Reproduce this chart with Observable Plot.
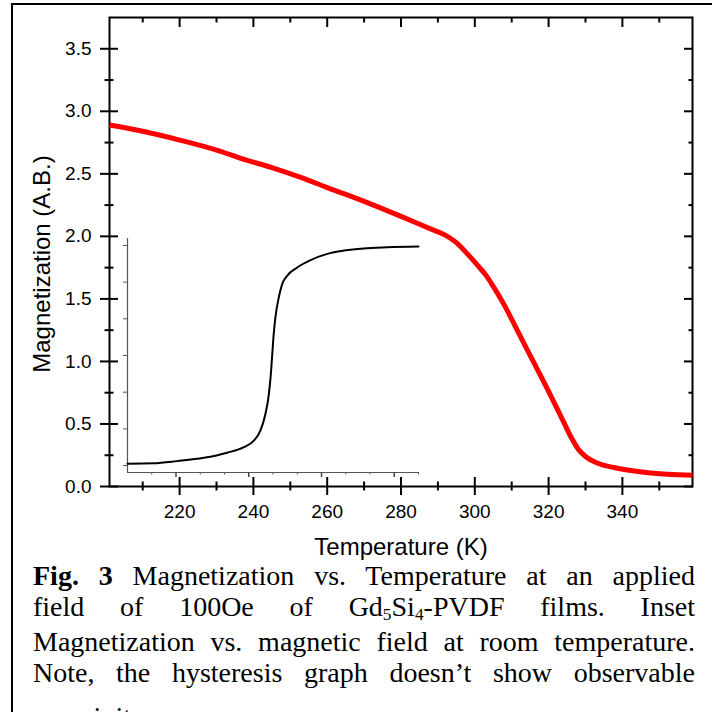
<!DOCTYPE html>
<html><head><meta charset="utf-8">
<script src="https://cdn.jsdelivr.net/npm/d3@7"></script>
<script src="https://cdn.jsdelivr.net/npm/@observablehq/plot@0.6"></script>
<style>
html,body{margin:0;padding:0;background:#fff;}
#wrap{position:relative;width:712px;height:712px;overflow:hidden;background:#fff;}
#frame{position:absolute;left:11px;top:3px;width:800px;height:800px;border-left:2px solid #000;border-top:2px solid #000;box-sizing:border-box;}
#main,#inset{position:absolute;left:0;top:0;width:712px;}
#caption{position:absolute;left:33px;top:560px;width:662px;font-family:"Liberation Serif","Times New Roman",serif;font-size:28px;line-height:31px;color:#000;}
#caption .l{text-align:justify;text-align-last:justify;white-space:nowrap;}
#caption .last{text-align:left;margin-top:13px;}
#caption sub{font-size:0.62em;vertical-align:baseline;position:relative;top:0.22em;}
</style></head>
<body><div id="wrap"><div id="frame"></div><div id="main"></div><div id="inset"></div><div id="caption"></div></div>
<script>
// Main curve: magnetization vs temperature
const temperature   = [201, 210, 220, 230, 237, 245, 253, 260, 270, 280, 288, 292, 295, 298, 301, 303, 305, 308, 312, 316, 320, 324, 326, 328, 330, 333, 338, 347, 359];
const magnetization = [2.89, 2.84, 2.77, 2.69, 2.62, 2.55, 2.47, 2.39, 2.28, 2.16, 2.06, 2.01, 1.95, 1.86, 1.76, 1.69, 1.60, 1.45, 1.22, 0.99, 0.76, 0.52, 0.40, 0.30, 0.24, 0.19, 0.15, 0.11, 0.09];

// Inset curve: magnetization vs magnetic field (arbitrary units, no labels)
const field  = [0, 1.08, 2.05, 3.15, 4.11, 4.80, 5.21, 5.48, 5.69, 5.83, 5.90, 5.97, 6.03, 6.10, 6.24, 6.38, 6.59, 7.00, 7.55, 8.24, 8.93, 9.74, 10.71, 12.0];
const moment = [0.05, 0.06, 0.12, 0.21, 0.35, 0.50, 0.68, 0.95, 1.41, 1.95, 2.41, 3.04, 3.59, 4.04, 4.59, 4.95, 5.18, 5.40, 5.60, 5.77, 5.86, 5.92, 5.95, 5.97];

const xDomain = [201, 359];
const yDomain = [0, 3.75];
const xMajorTicks = [220, 240, 260, 280, 300, 320, 340];
const xMinorTicks = [210, 230, 250, 270, 290, 310, 330, 350];
const yMajorTicks = [0, 0.5, 1.0, 1.5, 2.0, 2.5, 3.0, 3.5];
const yMinorTicks = [0.25, 0.75, 1.25, 1.75, 2.25, 2.75, 3.25];

const insetXDomain = [0, 12];
const insetYDomain = [-0.19, 6.19];
const insetXMinorTicks = [1, 3, 4, 6, 7, 9, 10, 12];
const insetXMajorTicks = [2, 5, 8, 11];
const insetYTicks = [0, 1, 2, 3, 4, 5, 6];

const xTitle = "Temperature (K)";
const yTitle = "Magnetization (A.B.)";
const captionLines = [
  "<b>Fig. 3</b> Magnetization vs. Temperature at an applied",
  "field of 100Oe of Gd<sub>5</sub>Si<sub>4</sub>-PVDF films. Inset",
  "Magnetization vs. magnetic field at room temperature.",
  "Note, the hysteresis graph doesn’t show observable",
  "coercivity."
];

const mainData = temperature.map((t, i) => ({t, m: magnetization[i]}));
const insetData = field.map((h, i) => ({h, m: moment[i]}));

const W = 712, H = 560;
const sans = "Liberation Sans, Arial, Helvetica, sans-serif";

const main = Plot.plot({
  width: W, height: H,
  marginLeft: 109, marginRight: 20, marginTop: 17, marginBottom: 74,
  style: {fontFamily: sans, background: "transparent", color: "#000", overflow: "visible"},
  x: {domain: xDomain},
  y: {domain: yDomain},
  marks: [
    // bottom axis
    Plot.axisX(xMajorTicks, {anchor: "bottom", tickSize: 9, tickPadding: 9, fontSize: 19, strokeWidth: 2, label: null, tickFormat: d => String(d)}),
    Plot.axisX(xMajorTicks, {anchor: "bottom", tickSize: -9, text: null, strokeWidth: 2, label: null}),
    Plot.axisX(xMinorTicks, {anchor: "bottom", tickSize: 4.5, text: null, strokeWidth: 2, label: null}),
    Plot.axisX(xMinorTicks, {anchor: "bottom", tickSize: -4.5, text: null, strokeWidth: 2, label: null}),
    // top axis (inward ticks)
    Plot.axisX(xMajorTicks, {anchor: "top", tickSize: -9, text: null, strokeWidth: 2, label: null}),
    Plot.axisX(xMinorTicks, {anchor: "top", tickSize: -4.5, text: null, strokeWidth: 2, label: null}),
    // left axis
    Plot.axisY(yMajorTicks, {anchor: "left", tickSize: 9, tickPadding: 9, fontSize: 19, strokeWidth: 2, label: null, tickFormat: d3.format(".1f")}),
    Plot.axisY(yMajorTicks, {anchor: "left", tickSize: -9, text: null, strokeWidth: 2, label: null}),
    Plot.axisY(yMinorTicks, {anchor: "left", tickSize: 4.5, text: null, strokeWidth: 2, label: null}),
    Plot.axisY(yMinorTicks, {anchor: "left", tickSize: -4.5, text: null, strokeWidth: 2, label: null}),
    // right axis (inward ticks)
    Plot.axisY(yMajorTicks, {anchor: "right", tickSize: -9, text: null, strokeWidth: 2, label: null}),
    Plot.axisY(yMinorTicks, {anchor: "right", tickSize: -4.5, text: null, strokeWidth: 2, label: null}),
    Plot.frame({stroke: "#000", strokeWidth: 2}),
    Plot.line(mainData, {x: "t", y: "m", stroke: "#ff0000", strokeWidth: 5, curve: "monotone-x", strokeLinecap: "butt"}),
    Plot.text([xTitle], {frameAnchor: "bottom", dy: 61, fontSize: 24, fill: "#000", textAnchor: "middle", lineAnchor: "middle"}),
    Plot.text([yTitle], {frameAnchor: "left", dx: -67, dy: 12, rotate: -90, fontSize: 24, fill: "#000", textAnchor: "middle", lineAnchor: "middle"})
  ]
});
document.getElementById("main").appendChild(main);

const inset = Plot.plot({
  width: W, height: H,
  marginLeft: 127, marginRight: 294, marginTop: 238, marginBottom: 88,
  style: {fontFamily: sans, background: "transparent", color: "#333", overflow: "visible"},
  x: {domain: insetXDomain},
  y: {domain: insetYDomain},
  marks: [
    Plot.ruleX([insetXDomain[0]], {stroke: "#555", strokeWidth: 1.2}),
    Plot.ruleY([insetYDomain[0]], {stroke: "#555", strokeWidth: 1.2}),
    Plot.axisY(insetYTicks, {anchor: "left", tickSize: 4, text: null, label: null, stroke: "#555", strokeWidth: 1}),
    Plot.axisX(insetXMinorTicks, {anchor: "bottom", tickSize: 2.5, text: null, label: null, stroke: "#555", strokeWidth: 1}),
    Plot.axisX(insetXMajorTicks, {anchor: "bottom", tickSize: 5, text: null, label: null, stroke: "#444", strokeWidth: 1.5}),
    Plot.line(insetData, {x: "h", y: "m", stroke: "#000", strokeWidth: 2, curve: "monotone-x"})
  ]
});
document.getElementById("inset").appendChild(inset);

const cap = document.getElementById("caption");
captionLines.forEach((html, i) => {
  const d = document.createElement("div");
  d.className = i === captionLines.length - 1 ? "last" : "l";
  d.innerHTML = html;
  cap.appendChild(d);
});
</script>
</body></html>
